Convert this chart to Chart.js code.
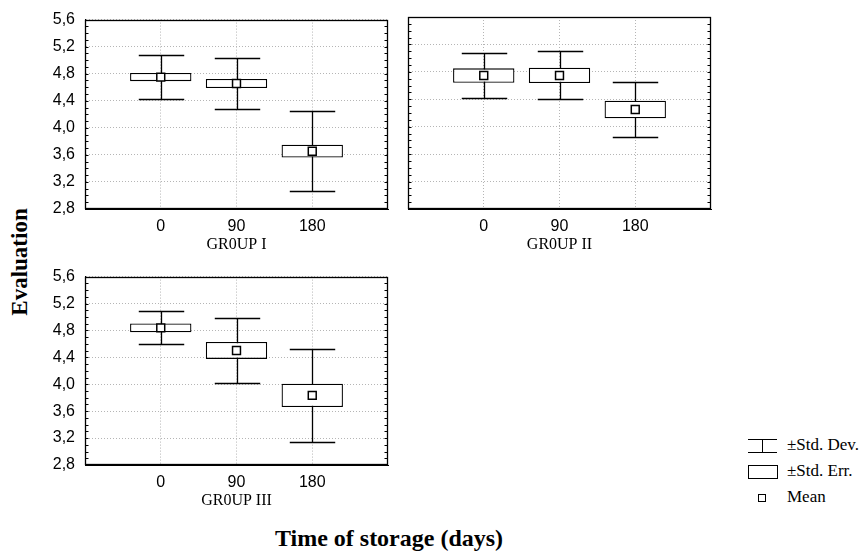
<!DOCTYPE html>
<html>
<head>
<meta charset="utf-8">
<script src="https://cdn.jsdelivr.net/npm/chart.js@4.4.1/dist/chart.umd.min.js"></script>
<style>
  body { margin: 0; background: #fff; }
  #page { position: relative; width: 864px; height: 556px; overflow: hidden; background: #fff; }
  #page canvas { position: absolute; }
  .axis-title { position: absolute; font: bold 23px "Liberation Serif", "Times New Roman", serif; white-space: nowrap; color: #000; }
  #ytitle { left: 20px; top: 262px; transform: translate(-50%, -50%) rotate(-90deg); }
  #xtitle { left: 389px; top: 538px; transform: translate(-50%, -50%); font-size: 24px; }
  .key { position: absolute; left: 748px; font: 17px "Liberation Serif", "Times New Roman", serif; color: #000; }
  .key span { position: absolute; left: 39px; top: -11px; white-space: nowrap; }
  .sym-sd { position: absolute; width: 29px; height: 12px; border-top: 1px solid #000; border-bottom: 1px solid #000; top: -7px; }
  .sym-sd::after { content: ''; position: absolute; left: 14px; top: 0; width: 1px; height: 12px; background: #000; }
  .sym-se { position: absolute; width: 28px; height: 12px; border: 1px solid #000; top: -7px; }
  .sym-mean { position: absolute; left: 10px; width: 6px; height: 6px; border: 1.5px solid #000; top: -4px; }
</style>
</head>
<body>
<div id="page">
  <canvas id="p1" width="356" height="254" style="left:40px;top:0"></canvas>
  <canvas id="p2" width="319" height="254" style="left:400px;top:0"></canvas>
  <canvas id="p3" width="356" height="253" style="left:40px;top:257px"></canvas>
  <div class="axis-title" id="ytitle">Evaluation</div>
  <div class="axis-title" id="xtitle">Time of storage (days)</div>
  <div class="key" style="top:446px"><div class="sym-sd"></div><span>±Std. Dev.</span></div>
  <div class="key" style="top:472px"><div class="sym-se"></div><span>±Std. Err.</span></div>
  <div class="key" style="top:498px"><div class="sym-mean"></div><span>Mean</span></div>
</div>
<script>
// storage time (days) and group names
const days = ['0', '90', '180'];
const groups = ['GR0UP I', 'GR0UP II', 'GR0UP III'];

// group I
const meanI = [4.75, 4.655, 3.655];
const seI = [0.06, 0.066, 0.095];
const sdI = [0.33, 0.375, 0.588];

// group II
const meanII = [4.746, 4.748, 4.251];
const seII = [0.105, 0.112, 0.129];
const sdII = [0.334, 0.351, 0.408];

// group III
const meanIII = [4.838, 4.502, 3.835];
const seIII = [0.064, 0.125, 0.174];
const sdIII = [0.245, 0.483, 0.689];

// y axis range, labelled every 0.4 with minor marks every 0.1
const yMin = 2.8;
const yMax = 5.6;
const yMinor = 0.1;

// empty slots on both ends keep the boxes away from the frame
const slots = ['', ...days, ''];
const pad = arr => [null, ...arr, null];
const isMajor = v => Math.round(v * 10) % 4 === 0;
const fmt = v => v.toFixed(1).replace('.', ',');

// SD whiskers go under the white SE boxes
const whiskers = {
  id: 'whiskers',
  beforeDatasetsDraw(chart) {
    const { ctx, scales: { x, y } } = chart;
    const means = chart.data.datasets[0].data;
    const sd = chart.data.datasets[1].sd;
    const half = 0.3 * (x.getPixelForValue(1) - x.getPixelForValue(0));
    ctx.save();
    ctx.strokeStyle = '#000';
    ctx.lineWidth = 1.3;
    means.forEach((m, i) => {
      if (m == null) return;
      const px = Math.round(x.getPixelForValue(i)) + 0.5;
      const top = Math.round(y.getPixelForValue(m + sd[i])) + 0.5;
      const bot = Math.round(y.getPixelForValue(m - sd[i])) + 0.5;
      ctx.beginPath();
      ctx.moveTo(px, top); ctx.lineTo(px, bot);
      ctx.moveTo(px - half, top); ctx.lineTo(px + half, top);
      ctx.moveTo(px - half, bot); ctx.lineTo(px + half, bot);
      ctx.stroke();
    });
    ctx.restore();
  }
};

// closed frame with small inward marks on both sides
const frame = {
  id: 'frame',
  afterDraw(chart) {
    const { ctx, chartArea: a, scales: { y } } = chart;
    const l = Math.round(a.left) + 0.5, r = Math.round(a.right) - 0.5;
    const t = Math.round(a.top) + 0.5, b = Math.round(a.bottom) - 0.5;
    ctx.save();
    ctx.strokeStyle = '#000';
    ctx.lineWidth = 1.3;
    ctx.strokeRect(l, t, r - l, b - t);
    ctx.lineWidth = 1;
    ctx.beginPath();
    y.ticks.forEach(tk => {
      const py = Math.round(y.getPixelForValue(tk.value)) + 0.5;
      ctx.moveTo(l, py); ctx.lineTo(l + 3, py);
      ctx.moveTo(r, py); ctx.lineTo(r - 3, py);
    });
    ctx.stroke();
    ctx.restore();
  }
};

function panel(id, name, mean, se, sd, showY, yWidth) {
  return new Chart(document.getElementById(id), {
    type: 'bar',
    data: {
      labels: slots,
      datasets: [
        {
          type: 'line',
          label: 'Mean',
          data: pad(mean),
          showLine: false,
          pointStyle: 'rect',
          pointRadius: 5.6,
          pointHoverRadius: 5.6,
          pointBackgroundColor: '#fff',
          pointBorderColor: '#000',
          pointBorderWidth: 1.5,
          order: 0
        },
        {
          label: '±Std. Err.',
          data: pad(mean.map((m, i) => [m - se[i], m + se[i]])),
          sd: pad(sd),
          backgroundColor: '#fff',
          borderColor: '#000',
          borderWidth: 1.3,
          borderSkipped: false,
          barPercentage: 0.81,
          categoryPercentage: 1,
          order: 1
        }
      ]
    },
    options: {
      responsive: false,
      animation: false,
      events: [],
      layout: { padding: { top: 17, right: 5, left: 0, bottom: 0 } },
      plugins: { legend: { display: false }, tooltip: { enabled: false } },
      scales: {
        x: {
          type: 'category',
          offset: false,
          grid: {
            offset: false,
            drawTicks: false,
            color: c => (c.index === 0 || c.index === slots.length - 1) ? 'rgba(0,0,0,0)' : '#b5b5b5'
          },
          border: { display: true, color: '#000', width: 1, dash: [1, 2] },
          ticks: {
            autoSkip: false,
            maxRotation: 0,
            padding: 8,
            color: '#000',
            font: { family: '"Liberation Sans", Arial, sans-serif', size: 16 }
          },
          title: {
            display: true,
            text: name,
            color: '#000',
            padding: { top: 0, bottom: 0 },
            font: { family: '"Liberation Serif", "Times New Roman", serif', size: 16 }
          },
          afterFit: s => { s.height = 45; }
        },
        y: {
          min: yMin,
          max: yMax,
          grid: {
            drawTicks: false,
            color: c => isMajor(c.tick.value) ? '#b5b5b5' : 'rgba(0,0,0,0)'
          },
          border: { display: true, color: '#000', width: 1, dash: [1, 2] },
          ticks: {
            display: showY,
            stepSize: yMinor,
            autoSkip: false,
            padding: 10,
            color: '#000',
            font: { family: '"Liberation Sans", Arial, sans-serif', size: 16 },
            callback: v => isMajor(v) ? fmt(v) : ''
          },
          afterFit: s => { s.width = yWidth; }
        }
      }
    },
    plugins: [whiskers, frame]
  });
}

panel('p1', groups[0], meanI, seI, sdI, true, 45);
panel('p2', groups[1], meanII, seII, sdII, false, 8);
panel('p3', groups[2], meanIII, seIII, sdIII, true, 45);
</script>
</body>
</html>
